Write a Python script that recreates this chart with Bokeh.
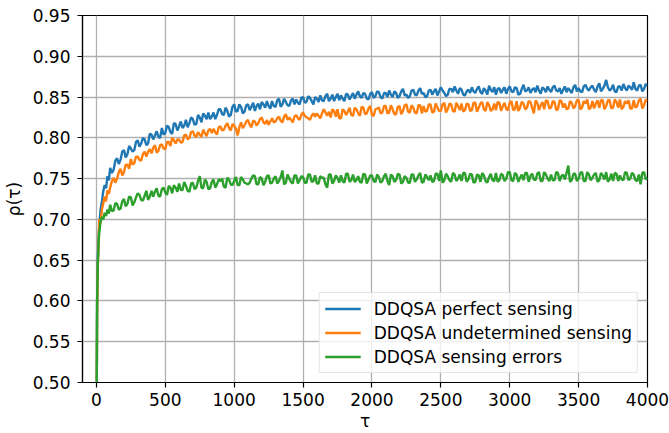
from bokeh.plotting import figure
from bokeh.models import FixedTicker, NumeralTickFormatter, Range1d, BasicTickFormatter
from bokeh.embed import file_html
from bokeh.resources import INLINE

# ---- data ----
tau_early = [0, 5, 10, 15, 20, 30, 40, 50, 60, 70, 80, 90]
tau_main = list(range(100, 4001, 25))
tau = tau_early + tau_main
tau_mid = [t + 12.5 for t in range(100, 4000, 25)]

perfect = [0.40, 0.60, 0.65, 0.675, 0.69, 0.712, 0.722, 0.735, 0.742, 0.738, 0.753, 0.748,
    0.763, 0.761, 0.775, 0.773, 0.785, 0.780, 0.787, 0.785,
    0.797, 0.793, 0.798, 0.793, 0.804, 0.803, 0.801, 0.812,
    0.806, 0.813, 0.805, 0.817, 0.814, 0.812, 0.822, 0.818,
    0.823, 0.817, 0.825, 0.830, 0.823, 0.823, 0.831, 0.828,
    0.835, 0.828, 0.833, 0.828, 0.841, 0.833, 0.838, 0.832,
    0.841, 0.838, 0.833, 0.842, 0.844, 0.837, 0.839, 0.845,
    0.838, 0.848, 0.841, 0.844, 0.839, 0.848, 0.847, 0.841,
    0.850, 0.844, 0.849, 0.841, 0.848, 0.852, 0.845, 0.854,
    0.848, 0.845, 0.854, 0.852, 0.845, 0.853, 0.851, 0.848,
    0.857, 0.849, 0.854, 0.847, 0.856, 0.851, 0.856, 0.848,
    0.855, 0.858, 0.850, 0.855, 0.851, 0.860, 0.853, 0.851,
    0.859, 0.852, 0.861, 0.855, 0.851, 0.859, 0.857, 0.852,
    0.862, 0.855, 0.853, 0.860, 0.863, 0.854, 0.859, 0.852,
    0.859, 0.862, 0.855, 0.863, 0.854, 0.858, 0.864, 0.856,
    0.853, 0.861, 0.859, 0.854, 0.863, 0.856, 0.861, 0.854,
    0.865, 0.858, 0.855, 0.861, 0.864, 0.854, 0.860, 0.863,
    0.856, 0.864, 0.857, 0.854, 0.863, 0.861, 0.855, 0.865,
    0.861, 0.856, 0.865, 0.858, 0.864, 0.856, 0.867, 0.860,
    0.871, 0.858, 0.865, 0.856, 0.863, 0.866, 0.858, 0.862,
    0.868, 0.858, 0.865, 0.860, 0.864]
perfect_mid = [
    0.757, 0.772, 0.768, 0.783, 0.776, 0.790, 0.783, 0.795,
    0.789, 0.800, 0.791, 0.805, 0.798, 0.808, 0.800, 0.804,
    0.815, 0.807, 0.818, 0.809, 0.820, 0.815, 0.813, 0.825,
    0.816, 0.828, 0.819, 0.827, 0.831, 0.826, 0.823, 0.835,
    0.829, 0.837, 0.826, 0.838, 0.832, 0.841, 0.830, 0.840,
    0.834, 0.843, 0.839, 0.835, 0.841, 0.845, 0.836, 0.839,
    0.846, 0.838, 0.848, 0.840, 0.846, 0.841, 0.843, 0.849,
    0.843, 0.851, 0.845, 0.850, 0.844, 0.846, 0.851, 0.845,
    0.853, 0.850, 0.846, 0.848, 0.854, 0.847, 0.855, 0.853,
    0.851, 0.855, 0.848, 0.854, 0.849, 0.857, 0.850, 0.855,
    0.850, 0.853, 0.857, 0.849, 0.857, 0.852, 0.849, 0.858,
    0.853, 0.858, 0.854, 0.850, 0.858, 0.853, 0.860, 0.857,
    0.858, 0.851, 0.860, 0.856, 0.858, 0.861, 0.853, 0.857,
    0.855, 0.857, 0.860, 0.856, 0.861, 0.853, 0.859, 0.862,
    0.860, 0.855, 0.862, 0.860, 0.857, 0.862, 0.853, 0.860,
    0.857, 0.862, 0.859, 0.856, 0.858, 0.862, 0.856, 0.859,
    0.862, 0.858, 0.861, 0.859, 0.856, 0.858, 0.862, 0.857,
    0.857, 0.863, 0.860, 0.862, 0.859, 0.863, 0.857, 0.864,
    0.862, 0.860, 0.857, 0.863, 0.858, 0.861, 0.864, 0.859,
    0.860, 0.864, 0.857, 0.866]

undetermined = [0.40, 0.58, 0.64, 0.668, 0.70, 0.695, 0.712, 0.72, 0.728, 0.722, 0.736, 0.731,
    0.739, 0.751, 0.750, 0.762, 0.758, 0.767, 0.774, 0.769,
    0.777, 0.772, 0.783, 0.783, 0.781, 0.791, 0.784, 0.792,
    0.786, 0.795, 0.800, 0.793, 0.798, 0.795, 0.804, 0.800,
    0.808, 0.801, 0.804, 0.810, 0.802, 0.811, 0.811, 0.804,
    0.814, 0.810, 0.818, 0.809, 0.815, 0.803, 0.819, 0.815,
    0.822, 0.813, 0.820, 0.818, 0.825, 0.817, 0.816, 0.824,
    0.820, 0.826, 0.819, 0.829, 0.825, 0.819, 0.828, 0.822,
    0.831, 0.825, 0.822, 0.830, 0.830, 0.824, 0.835, 0.827,
    0.825, 0.833, 0.835, 0.824, 0.833, 0.832, 0.828, 0.837,
    0.830, 0.838, 0.829, 0.836, 0.828, 0.835, 0.837, 0.831,
    0.839, 0.831, 0.835, 0.829, 0.839, 0.833, 0.841, 0.831,
    0.837, 0.830, 0.840, 0.839, 0.833, 0.841, 0.832, 0.837,
    0.833, 0.843, 0.835, 0.841, 0.832, 0.839, 0.842, 0.834,
    0.841, 0.834, 0.843, 0.837, 0.844, 0.833, 0.840, 0.835,
    0.834, 0.843, 0.839, 0.835, 0.843, 0.834, 0.845, 0.837,
    0.842, 0.837, 0.844, 0.830, 0.843, 0.840, 0.835, 0.845,
    0.837, 0.844, 0.835, 0.845, 0.842, 0.836, 0.843, 0.839,
    0.846, 0.837, 0.842, 0.835, 0.845, 0.842, 0.837, 0.846,
    0.839, 0.846, 0.837, 0.844, 0.847, 0.838, 0.842, 0.836,
    0.846, 0.839, 0.848, 0.840, 0.845]
undetermined_mid = [
    0.747, 0.745, 0.758, 0.754, 0.767, 0.762, 0.767, 0.777,
    0.773, 0.780, 0.777, 0.786, 0.788, 0.782, 0.791, 0.787,
    0.795, 0.790, 0.797, 0.798, 0.794, 0.803, 0.798, 0.807,
    0.803, 0.807, 0.801, 0.806, 0.809, 0.806, 0.807, 0.813,
    0.809, 0.815, 0.812, 0.817, 0.811, 0.813, 0.812, 0.820,
    0.816, 0.821, 0.815, 0.823, 0.819, 0.822, 0.820, 0.819,
    0.824, 0.821, 0.826, 0.822, 0.822, 0.826, 0.824, 0.828,
    0.827, 0.824, 0.827, 0.826, 0.827, 0.830, 0.831, 0.832,
    0.835, 0.826, 0.824, 0.835, 0.828, 0.837, 0.827, 0.835,
    0.827, 0.837, 0.830, 0.839, 0.827, 0.836, 0.830, 0.839,
    0.830, 0.840, 0.829, 0.838, 0.829, 0.840, 0.832, 0.840,
    0.831, 0.840, 0.830, 0.832, 0.841, 0.831, 0.842, 0.833,
    0.841, 0.831, 0.842, 0.833, 0.843, 0.834, 0.832, 0.842,
    0.833, 0.843, 0.832, 0.842, 0.835, 0.844, 0.833, 0.842,
    0.844, 0.833, 0.843, 0.834, 0.845, 0.835, 0.833, 0.844,
    0.835, 0.845, 0.837, 0.846, 0.834, 0.844, 0.846, 0.836,
    0.845, 0.834, 0.846, 0.837, 0.835, 0.845, 0.836, 0.846,
    0.835, 0.845, 0.847, 0.837, 0.836, 0.846, 0.846, 0.835,
    0.846, 0.836, 0.847, 0.837, 0.835, 0.845, 0.846, 0.836,
    0.837, 0.846, 0.836, 0.847]

errors = [0.40, 0.60, 0.645, 0.668, 0.683, 0.697, 0.703, 0.700, 0.708, 0.704, 0.712, 0.707,
    0.718, 0.711, 0.719, 0.713, 0.725, 0.719, 0.727, 0.721,
    0.732, 0.724, 0.729, 0.724, 0.735, 0.734, 0.729, 0.737,
    0.733, 0.741, 0.732, 0.739, 0.744, 0.736, 0.741, 0.734,
    0.745, 0.739, 0.753, 0.738, 0.746, 0.738, 0.749, 0.743,
    0.747, 0.740, 0.751, 0.743, 0.747, 0.742, 0.752, 0.745,
    0.743, 0.750, 0.753, 0.743, 0.750, 0.746, 0.754, 0.745,
    0.753, 0.747, 0.760, 0.745, 0.750, 0.744, 0.754, 0.748,
    0.752, 0.745, 0.755, 0.747, 0.744, 0.753, 0.751, 0.739,
    0.755, 0.747, 0.751, 0.754, 0.745, 0.756, 0.748, 0.746,
    0.753, 0.745, 0.755, 0.749, 0.754, 0.746, 0.752, 0.747,
    0.756, 0.742, 0.753, 0.748, 0.755, 0.746, 0.751, 0.745,
    0.755, 0.749, 0.757, 0.746, 0.752, 0.754, 0.747, 0.756,
    0.760, 0.748, 0.753, 0.746, 0.755, 0.750, 0.747, 0.757,
    0.749, 0.755, 0.746, 0.754, 0.757, 0.747, 0.752, 0.748,
    0.757, 0.748, 0.754, 0.750, 0.758, 0.747, 0.755, 0.751,
    0.748, 0.757, 0.753, 0.749, 0.756, 0.747, 0.758, 0.750,
    0.755, 0.748, 0.757, 0.753, 0.749, 0.766, 0.748, 0.756,
    0.750, 0.758, 0.747, 0.755, 0.751, 0.757, 0.748, 0.754,
    0.758, 0.749, 0.747, 0.756, 0.754, 0.748, 0.757, 0.750,
    0.755, 0.747, 0.743, 0.758, 0.751]
errors_mid = [
    0.710, 0.720, 0.712, 0.722, 0.716, 0.728, 0.717, 0.727,
    0.730, 0.723, 0.735, 0.728, 0.728, 0.738, 0.728, 0.739,
    0.730, 0.739, 0.742, 0.734, 0.736, 0.746, 0.735, 0.744,
    0.737, 0.747, 0.739, 0.749, 0.737, 0.746, 0.739, 0.749,
    0.750, 0.739, 0.749, 0.742, 0.752, 0.742, 0.749, 0.744,
    0.745, 0.754, 0.743, 0.752, 0.742, 0.753, 0.744, 0.750,
    0.744, 0.752, 0.743, 0.755, 0.746, 0.754, 0.744, 0.753,
    0.745, 0.755, 0.746, 0.754, 0.744, 0.751, 0.743, 0.755,
    0.744, 0.754, 0.745, 0.747, 0.756, 0.746, 0.755, 0.748,
    0.746, 0.756, 0.744, 0.754, 0.747, 0.755, 0.745, 0.753,
    0.747, 0.755, 0.746, 0.756, 0.744, 0.753, 0.745, 0.755,
    0.746, 0.754, 0.745, 0.755, 0.748, 0.746, 0.756, 0.747,
    0.745, 0.756, 0.748, 0.757, 0.747, 0.755, 0.757, 0.746,
    0.756, 0.745, 0.755, 0.746, 0.754, 0.745, 0.756, 0.747,
    0.746, 0.756, 0.747, 0.758, 0.748, 0.757, 0.746, 0.755,
    0.757, 0.746, 0.756, 0.748, 0.758, 0.747, 0.755, 0.747,
    0.748, 0.758, 0.747, 0.755, 0.757, 0.746, 0.756, 0.747,
    0.757, 0.747, 0.758, 0.748, 0.755, 0.746, 0.757, 0.749,
    0.746, 0.756, 0.757, 0.747, 0.749, 0.758, 0.748, 0.757,
    0.748, 0.755, 0.757, 0.749]

series_names = ["DDQSA perfect sensing", "DDQSA undetermined sensing", "DDQSA sensing errors"]
series_colors = ["#1f77b4", "#ff7f0e", "#2ca02c"]
x_ticks = [0, 500, 1000, 1500, 2000, 2500, 3000, 3500, 4000]
y_ticks = [0.50, 0.55, 0.60, 0.65, 0.70, 0.75, 0.80, 0.85, 0.90, 0.95]


def combine(vals, mids):
    assert len(vals) == len(tau) and len(mids) == len(tau_mid)
    pts = sorted(zip(tau + tau_mid, vals + mids))
    return [a for a, _ in pts], [b for _, b in pts]


FONT = "DejaVu Sans"
FS = "17px"

p = figure(width=669, height=433, output_backend="svg", toolbar_location=None,
           x_range=Range1d(-101, 4000), y_range=Range1d(0.50, 0.95),
           min_border_left=81, min_border_right=22, min_border_top=15, min_border_bottom=51)
p.background_fill_color = "white"
p.border_fill_color = "white"
p.outline_line_color = "black"
p.outline_line_width = 1.2

for (vals, mids), name, col in zip([(perfect, perfect_mid), (undetermined, undetermined_mid),
                                    (errors, errors_mid)], series_names, series_colors):
    xs, ys = combine(vals, mids)
    p.line(xs, ys, line_color=col, line_width=2.4, legend_label=name)

for ax in (p.xaxis[0], p.yaxis[0]):
    ax.major_tick_in = 0
    ax.major_tick_out = 5
    ax.minor_tick_in = 0
    ax.minor_tick_out = 0
    ax.axis_line_color = "black"
    ax.axis_line_width = 1.2
    ax.major_tick_line_color = "black"
    ax.major_tick_line_width = 1.2
    ax.major_label_text_font = FONT
    ax.major_label_text_font_size = FS
    ax.major_label_text_color = "black"
    ax.axis_label_text_font = FONT
    ax.axis_label_text_font_size = FS
    ax.axis_label_text_font_style = "normal"
    ax.axis_label_text_color = "black"

p.xaxis.ticker = FixedTicker(ticks=x_ticks)
p.xaxis.formatter = BasicTickFormatter(use_scientific=False)
p.yaxis.ticker = FixedTicker(ticks=y_ticks)
p.yaxis.formatter = NumeralTickFormatter(format="0.00")
p.xaxis.axis_label = "τ"
p.yaxis.axis_label = "ρ(τ)"
p.xaxis.major_label_standoff = 5
p.xaxis.axis_label_standoff = 2
p.yaxis.major_label_standoff = 7
p.yaxis.axis_label_standoff = 6

p.xgrid.grid_line_color = "#b0b0b0"
p.ygrid.grid_line_color = "#b0b0b0"
p.xgrid.grid_line_width = 1.3
p.ygrid.grid_line_width = 1.3

lg = p.legend[0]
lg.location = "bottom_right"
lg.margin = 9
lg.padding = 5
lg.spacing = 3
lg.glyph_width = 36
lg.glyph_height = 21
lg.label_height = 21
lg.label_standoff = 13
lg.label_text_font = FONT
lg.label_text_font_size = FS
lg.label_text_color = "black"
lg.border_line_color = "#cccccc"
lg.border_line_width = 1.2
lg.background_fill_color = "white"
lg.background_fill_alpha = 0.8

open("out.html", "w").write(file_html(p, INLINE))
